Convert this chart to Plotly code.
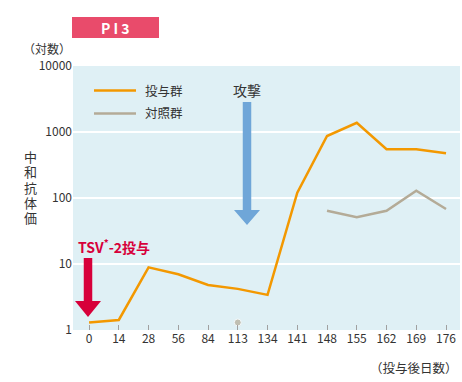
import plotly.graph_objects as go

days = ["0", "14", "28", "56", "84", "113", "134", "141", "148", "155", "162", "169", "176"]
treated = [1.3, 1.42, 8.9, 7.0, 4.8, 4.2, 3.4, 120, 870, 1380, 550, 550, 475]
control = [None, None, None, None, None, 1.3, None, None, 64, 51, 64, 129, 68]
ytick_vals = [1, 10, 100, 1000, 10000]
ytick_text = ["1", "10", "100", "1000", "10000"]
ytitle_chars = ["中", "和", "抗", "体", "価"]

ORANGE = "#f39800"
GRAY = "#b4ab97"
RED = "#d7003a"
BLUE = "#6fa6d8"
PINK = "#e94b6b"
BG = "#dff0f5"
FONT = "Noto Sans CJK JP"

W, H = 462, 382
L, R, T, B = 73, 460, 66, 330


def px(x):
    return (x - L) / (R - L)


def py(y):
    return (B - y) / (B - T)


# markers only on isolated control points
ctrl_sizes = []
for i, v in enumerate(control):
    prev_ok = i > 0 and control[i - 1] is not None
    next_ok = i < len(control) - 1 and control[i + 1] is not None
    ctrl_sizes.append(7 if (v is not None and not prev_ok and not next_ok) else 0)

fig = go.Figure()
fig.add_trace(go.Scatter(x=days, y=treated, mode="lines",
                         line=dict(color=ORANGE, width=2.5), showlegend=False))
fig.add_trace(go.Scatter(x=days, y=control, mode="lines+markers",
                         line=dict(color=GRAY, width=2.5),
                         marker=dict(size=ctrl_sizes, color=GRAY),
                         connectgaps=False, showlegend=False))


def arrow_path(xc, y0, yh, ytip, shaft_w, head_w):
    x0 = px(xc - shaft_w / 2)
    x1 = px(xc + shaft_w / 2)
    hx0 = px(xc - head_w / 2)
    hx1 = px(xc + head_w / 2)
    return (f"M {x0},{py(y0)} L {x1},{py(y0)} L {x1},{py(yh)} L {hx1},{py(yh)} "
            f"L {px(xc)},{py(ytip)} L {hx0},{py(yh)} L {x0},{py(yh)} Z")


shapes = [
    # red arrow
    dict(type="path", xref="paper", yref="paper",
         path=arrow_path(88, 258, 301, 317, 8.5, 26),
         fillcolor=RED, line=dict(width=0)),
    # blue arrow
    dict(type="path", xref="paper", yref="paper",
         path=arrow_path(247, 102, 210, 225, 8.5, 26),
         fillcolor=BLUE, line=dict(width=0)),
    # legend lines
    dict(type="line", xref="paper", yref="paper", x0=px(94), x1=px(136),
         y0=py(90.5), y1=py(90.5), line=dict(color=ORANGE, width=2.5)),
    dict(type="line", xref="paper", yref="paper", x0=px(94), x1=px(136),
         y0=py(113.5), y1=py(113.5), line=dict(color=GRAY, width=2.5)),
    # title box
    dict(type="rect", xref="paper", yref="paper", x0=px(72), x1=px(159),
         y0=py(38), y1=py(17), fillcolor=PINK, line=dict(width=0)),
]


def ann(text, x, y, size=13, color="#333333", xanchor="center", bold=False, **kw):
    if bold:
        text = f"<b>{text}</b>"
    return dict(text=text, x=px(x), y=py(y), xref="paper", yref="paper",
                showarrow=False, xanchor=xanchor, yanchor="middle",
                font=dict(size=size, color=color, family=kw.pop("family", FONT)), **kw)


annotations = [
    ann("P I 3", 115.5, 27.5, size=14, color="white", bold=True),
    ann("（対数）", 47, 49, size=12),
    ann("投与群", 143, 90, size=12.5, xanchor="left"),
    ann("対照群", 143, 113, size=12.5, xanchor="left"),
    ann("攻撃", 247, 90, size=14),
    ann("TSV<sup>*</sup>-2投与", 114, 246, size=14, color=RED, bold=True),
    ann("（投与後日数）", 460, 367, size=12.5, xanchor="right"),
]
for i, ch in enumerate(ytitle_chars):
    annotations.append(ann(ch, 30, 156 + i * 15.5, size=13))

fig.update_layout(
    width=W, height=H,
    margin=dict(l=L, r=W - R, t=T, b=H - B),
    paper_bgcolor="white",
    plot_bgcolor=BG,
    font=dict(family=FONT, size=12, color="#333333"),
    shapes=shapes,
    annotations=annotations,
    showlegend=False,
)
fig.update_xaxes(type="category", range=[-0.54, 12.47], showgrid=False,
                 ticks="inside", ticklen=5, tickcolor="#a0a0a0", tickwidth=1,
                 showline=False, zeroline=False, tickfont=dict(size=12))
fig.update_yaxes(type="log", range=[0, 4], tickvals=ytick_vals, ticktext=ytick_text,
                 showgrid=True, gridcolor="white", gridwidth=2,
                 ticks="", showline=False, zeroline=False, tickfont=dict(size=12))

fig.write_html("out.html", config={"displayModeBar": False},
               post_script="document.body.style.margin='0';document.body.style.overflow='hidden';")
